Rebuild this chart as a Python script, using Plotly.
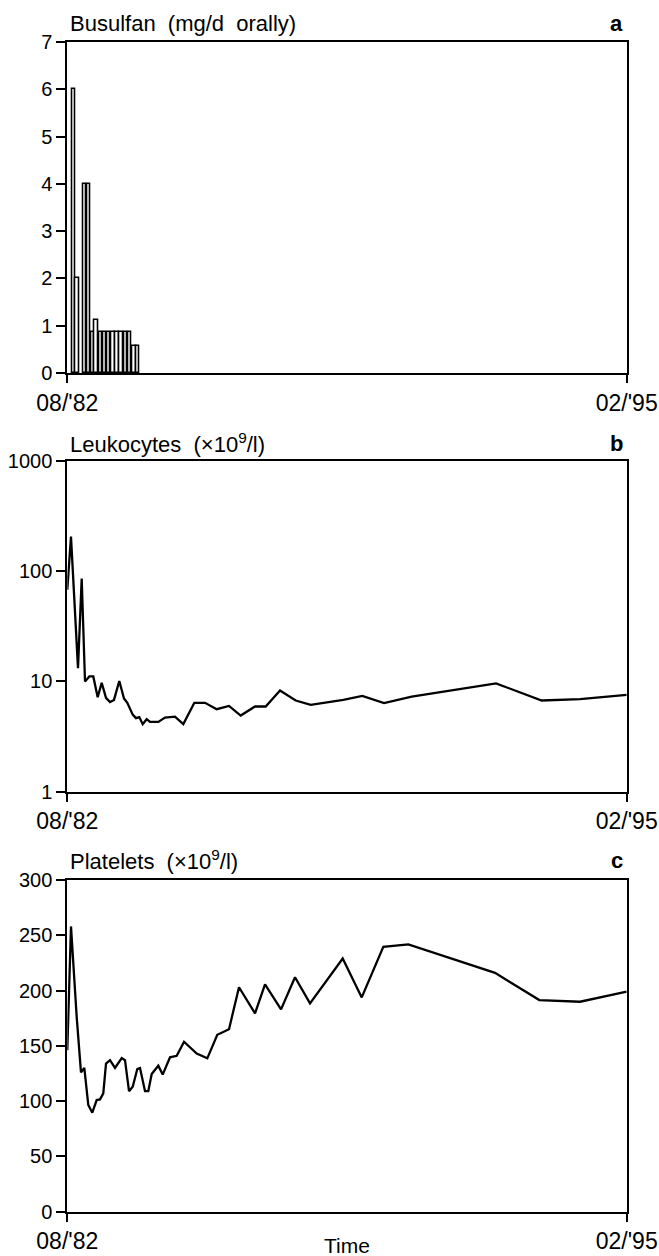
import plotly.graph_objects as go

# ---- data (x in months since 08/'82) ----
busulfan_month = [1.75, 2.64, 4.73, 5.72, 6.76, 7.8, 9.0, 10.1, 11.2, 12.3, 13.4, 14.5, 15.6, 16.7, 17.97, 18.95]
busulfan_dose = [6, 2, 4, 4, 0.86, 1.13, 0.86, 0.86, 0.86, 0.86, 0.86, 0.86, 0.86, 0.86, 0.57, 0.57]

leuko_month = [0, 0.99, 2.87, 3.86, 4.75, 5.9, 6.97, 8.15, 9.22, 10.38, 11.45, 12.52, 13.94, 15.2, 16.09,
               17.54, 18.42, 19.31, 20.22, 21.29, 22.18, 24.4, 26.2, 28.88, 31.11, 34.06, 36.93, 40.06,
               43.36, 46.5, 50.34, 53.2, 57.04, 61.25, 65.27, 74.01, 79.11, 84.93, 92.36, 114.97, 127.22,
               137.49, 150]
leuko_value = [68, 206, 13.2, 86, 10, 11.1, 11.1, 7.2, 9.7, 7.1, 6.5, 6.8, 10.1, 7.0, 6.4,
               5.0, 4.65, 4.75, 4.1, 4.55, 4.3, 4.3, 4.7, 4.8, 4.1, 6.4, 6.4, 5.6,
               6.0, 4.91, 5.93, 5.93, 8.28, 6.72, 6.14, 6.82, 7.41, 6.36, 7.3, 9.6, 6.72,
               6.92, 7.57]

plt_month = [0, 0.99, 2.52, 3.67, 4.56, 5.63, 6.7, 7.88, 8.77, 9.65, 10.38, 11.45, 12.79, 14.59, 15.47,
             16.55, 17.54, 18.77, 19.5, 20.84, 21.72, 22.63, 24.4, 25.58, 27.54, 29.34, 31.3, 34.7,
             37.54, 40.22, 43.36, 46.04, 50.34, 53.02, 57.31, 61.06, 65.08, 73.85, 78.95, 84.74,
             91.45, 114.7, 126.57, 137.49, 150]
plt_value = [146, 258, 176, 126, 130, 96.5, 89.5, 101, 101.6, 107, 134, 137, 130, 139, 137,
             109, 113, 129, 130, 109, 109, 124.5, 132, 124, 139.6, 141, 153.7, 143,
             138.7, 160, 165, 203, 179.4, 205.6, 183, 212, 188.4, 229, 193.8, 239.6,
             241.8, 216, 191.4, 189.9, 199]

x_tickvals = [0, 150]
x_ticktext = ["08/'82", "02/'95"]

titles = ["Busulfan  (mg/d  orally)", "Leukocytes  (\u00d710<sup>9</sup>/l)", "Platelets  (\u00d710<sup>9</sup>/l)"]
letters = ["a", "b", "c"]

W, H = 659, 1256
FONT = "Liberation Sans, Arial, Helvetica, sans-serif"

def py(px):
    return 1 - px / H

xdom = [67.3 / W, 626.7 / W]
ydoms = [[py(373), py(42)], [py(791.7), py(461)], [py(1211.7), py(880)]]

fig = go.Figure()
fig.add_trace(go.Bar(x=busulfan_month, y=busulfan_dose, width=0.9,
                     marker=dict(color="white", line=dict(color="black", width=1.6)),
                     xaxis="x", yaxis="y", showlegend=False))
fig.add_trace(go.Scatter(x=leuko_month, y=leuko_value, mode="lines",
                         line=dict(color="black", width=2.3), xaxis="x2", yaxis="y2", showlegend=False))
fig.add_trace(go.Scatter(x=plt_month, y=plt_value, mode="lines",
                         line=dict(color="black", width=2.3), xaxis="x3", yaxis="y3", showlegend=False))

axis_common = dict(showline=True, mirror=True, linecolor="black", linewidth=2, showgrid=False,
                   zeroline=False, ticks="outside", tickcolor="black", tickwidth=1.5, automargin=False)

layout = dict(width=W, height=H, margin=dict(l=0, r=0, t=0, b=0, autoexpand=False),
              paper_bgcolor="white", plot_bgcolor="white", showlegend=False, bargap=0)

for i in range(3):
    sx = "" if i == 0 else str(i + 1)
    layout["xaxis" + sx] = dict(axis_common, domain=xdom, range=[0, 150], tickvals=x_tickvals,
                                ticktext=x_ticktext, ticklen=8, anchor="y" + sx,
                                tickfont=dict(family=FONT, size=23, color="black"))
    layout["yaxis" + sx] = dict(axis_common, domain=ydoms[i], ticklen=9, anchor="x" + sx,
                                tickfont=dict(family=FONT, size=20, color="black"))

layout["yaxis"].update(range=[0, 7], tickvals=[0, 1, 2, 3, 4, 5, 6, 7])
layout["yaxis2"].update(type="log", range=[0, 3], tickvals=[1, 10, 100, 1000], ticktext=["1", "10", "100", "1000"])
layout["yaxis3"].update(range=[0, 300], tickvals=[0, 50, 100, 150, 200, 250, 300])

title_y = [24, 443, 860]
annotations = []
for i in range(3):
    annotations.append(dict(text=titles[i], x=68 / W, y=py(title_y[i]), xref="paper", yref="paper",
                            xanchor="left", yanchor="middle", showarrow=False,
                            font=dict(family=FONT, size=22, color="black")))
    annotations.append(dict(text="<b>" + letters[i] + "</b>", x=625 / W, y=py(title_y[i]), xref="paper",
                            yref="paper", xanchor="right", yanchor="middle", showarrow=False,
                            font=dict(family=FONT, size=22, color="black")))
annotations.append(dict(text="Time", x=347 / W, y=py(1245), xref="paper", yref="paper",
                        xanchor="center", yanchor="middle", showarrow=False,
                        font=dict(family=FONT, size=21, color="black")))
layout["annotations"] = annotations

fig.update_layout(**layout)
fig.write_html("out.html", config={"displayModeBar": False},
               post_script="document.body.style.margin='0';document.body.style.overflow='hidden';")
